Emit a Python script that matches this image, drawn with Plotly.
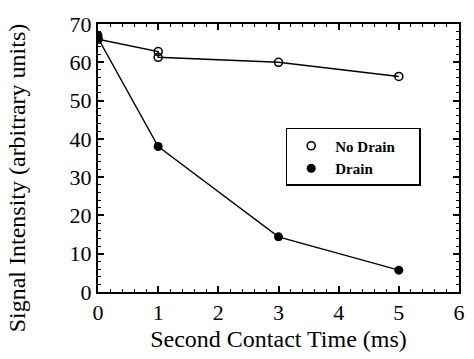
import plotly.graph_objects as go

no_drain_x = [0, 1, 1, 3, 5]
no_drain_y = [66, 62.8, 61.3, 60.0, 56.3]
drain_x = [0, 0, 1, 3, 5]
drain_y = [67, 66.3, 38, 14.4, 5.7]

font_family = "Liberation Serif, Times New Roman, serif"
pad = "\u00a0" * 5

fig = go.Figure()
# connecting lines (not shown in legend)
fig.add_trace(go.Scatter(
    x=no_drain_x, y=no_drain_y, mode="lines", showlegend=False,
    line=dict(color="black", width=1.4), hoverinfo="skip",
))
fig.add_trace(go.Scatter(
    x=drain_x, y=drain_y, mode="lines", showlegend=False,
    line=dict(color="black", width=1.4), hoverinfo="skip",
))
# markers
fig.add_trace(go.Scatter(
    x=no_drain_x, y=no_drain_y, mode="markers", name="No Drain" + pad,
    marker=dict(symbol="circle-open", size=8, color="black", line=dict(width=1.6)),
))
fig.add_trace(go.Scatter(
    x=drain_x, y=drain_y, mode="markers", name="Drain",
    marker=dict(symbol="circle", size=9, color="black"),
))

axis_common = dict(
    showgrid=False, zeroline=False, showline=True, linecolor="black", linewidth=2,
    mirror="allticks", ticks="inside", ticklen=6, tickwidth=1.5, tickcolor="black",
    tickfont=dict(family=font_family, size=22, color="black"),
)
fig.update_xaxes(
    range=[0, 6], dtick=1, tick0=0,
    minor=dict(dtick=0.2, ticks="inside", ticklen=3, tickwidth=1, tickcolor="black"),
    title=dict(text="Second Contact Time (ms)", font=dict(family=font_family, size=24, color="black"), standoff=6),
    **axis_common,
)
fig.update_yaxes(
    range=[0, 70], dtick=10, tick0=0,
    minor=dict(dtick=2, ticks="inside", ticklen=3, tickwidth=1, tickcolor="black"),
    **axis_common,
)
fig.update_layout(
    width=474, height=359,
    margin=dict(l=98, r=9, t=24, b=67),
    plot_bgcolor="white", paper_bgcolor="white",
    legend=dict(
        x=0.52, y=0.612, xanchor="left", yanchor="top",
        bgcolor="white", bordercolor="black", borderwidth=1.5,
        font=dict(family=font_family, size=15, color="black", weight="bold"),
        itemwidth=38, tracegroupgap=0,
    ),
    annotations=[dict(
        text="Signal Intensity (arbitrary units)", textangle=-90,
        xref="paper", yref="paper", x=(16 - 98) / 367, y=(292 - 178) / 268,
        xanchor="center", yanchor="middle", showarrow=False,
        font=dict(family=font_family, size=24, color="black"),
    )],
)
fig.write_html("out.html")
